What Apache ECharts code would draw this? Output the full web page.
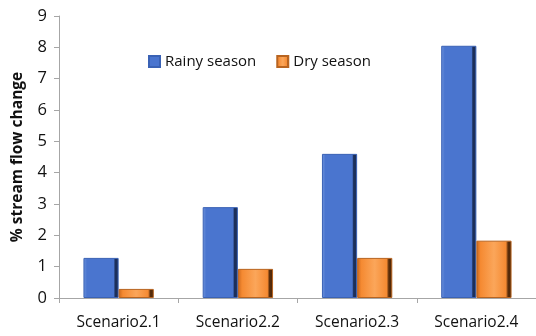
<!DOCTYPE html>
<html>
<head>
<meta charset="utf-8">
<script src="https://cdn.jsdelivr.net/npm/echarts@6/dist/echarts.min.js"></script>
<style>
  html, body { margin: 0; padding: 0; background: #fff; }
  #chart { width: 536px; height: 336px; }
</style>
</head>
<body>
<div id="chart"></div>
<script>
// Scenario categories and percentage stream flow change per season
const categories = ['Scenario2.1', 'Scenario2.2', 'Scenario2.3', 'Scenario2.4'];
const rainySeason = [1.28, 2.9, 4.6, 8.05];
const drySeason = [0.29, 0.93, 1.28, 1.83];
const yTicks = [0, 1, 2, 3, 4, 5, 6, 7, 8, 9];

const font = '"Open Sans", "Noto Sans", sans-serif';

// Horizontal gradient giving each bar a bevelled look
function bevel(light, main, dark) {
  return new echarts.graphic.LinearGradient(0, 0, 1, 0, [
    { offset: 0, color: light },
    { offset: 0.1, color: main },
    { offset: 0.86, color: main },
    { offset: 0.9, color: dark },
    { offset: 1, color: dark }
  ]);
}

const chart = echarts.init(document.getElementById('chart'));
chart.setOption({
  animation: false,
  legend: {
    top: 49,
    left: 143,
    icon: 'rect',
    itemWidth: 11,
    itemHeight: 11,
    itemGap: 20,
    textStyle: { fontFamily: font, fontSize: 15, color: '#111' },
    data: ['Rainy season', 'Dry season']
  },
  grid: { left: 59, right: 0, top: 16, bottom: 38, containLabel: false, outerBoundsMode: 'none' },
  xAxis: {
    type: 'category',
    data: categories,
    axisLine: { lineStyle: { color: '#a6a6a6' } },
    axisTick: { show: true, length: 5, lineStyle: { color: '#a6a6a6' } },
    axisLabel: { fontFamily: font, fontSize: 15.5, color: '#111', margin: 17 }
  },
  yAxis: {
    type: 'value',
    min: yTicks[0],
    max: yTicks[yTicks.length - 1],
    interval: 1,
    name: '% stream flow change',
    nameLocation: 'middle',
    nameGap: 33,
    nameTextStyle: { fontFamily: font, fontSize: 15.5, fontWeight: 'bold', color: '#111' },
    axisLine: { show: true, lineStyle: { color: '#a6a6a6' } },
    axisTick: { show: true, length: 5, lineStyle: { color: '#a6a6a6' } },
    axisLabel: { fontFamily: font, fontSize: 16.5, color: '#111', margin: 12 },
    splitLine: { show: false }
  },
  series: [
    {
      name: 'Rainy season',
      type: 'bar',
      data: rainySeason,
      barGap: '0%',
      barCategoryGap: '41%',
      itemStyle: {
        color: bevel('#6d93dc', '#4a75cf', '#1c2f5a'),
        borderColor: '#3a62b5',
        borderWidth: 1
      }
    },
    {
      name: 'Dry season',
      type: 'bar',
      data: drySeason,
      itemStyle: {
        color: new echarts.graphic.LinearGradient(0, 0, 1, 0, [
          { offset: 0, color: '#c9661c' },
          { offset: 0.12, color: '#f58a32' },
          { offset: 0.5, color: '#fba65a' },
          { offset: 0.84, color: '#f58a32' },
          { offset: 0.9, color: '#5a2d0a' },
          { offset: 1, color: '#4a2508' }
        ]),
        borderColor: '#b86420',
        borderWidth: 1
      }
    }
  ]
});
</script>
</body>
</html>
